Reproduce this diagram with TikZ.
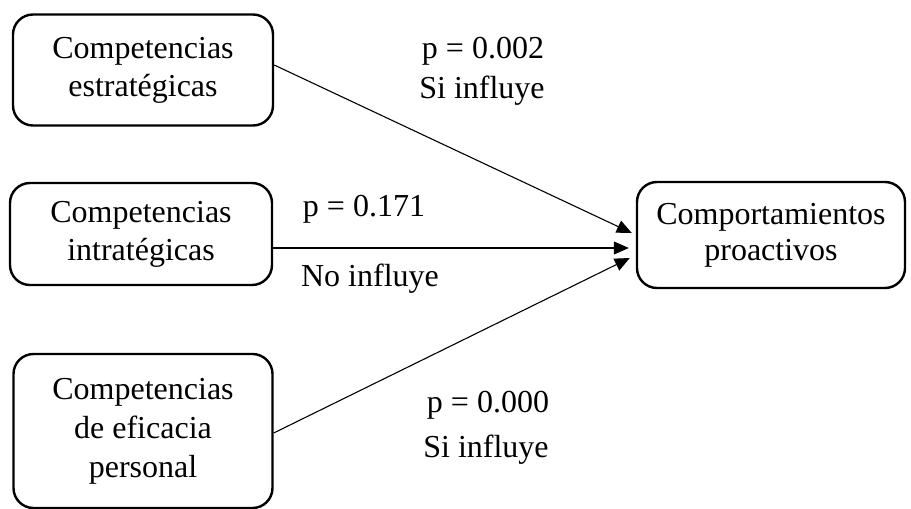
\documentclass[tikz,border=0pt]{standalone}
\usepackage{fontspec}
\setmainfont{Liberation Serif}
\usetikzlibrary{arrows.meta}
\tikzset{
  factor/.style={draw, line width=2.4pt, rounded corners=20pt, align=center,
    inner sep=0pt, font=\fontsize{32}{38}\selectfont},
  arr/.style={line width=1.1pt, -{Triangle[length=15pt,width=13pt]}},
  lbl/.style={anchor=base, inner sep=0pt, font=\fontsize{32}{38}\selectfont}
}
\begin{document}
\begin{tikzpicture}[x=1pt,y=-1pt]
\useasboundingbox (0,0) rectangle (911,509);
% source factors
\node[factor, minimum width=260pt, minimum height=111pt] (est) at (143,70)
  {Competencias\\estratégicas};
\node[factor, minimum width=262pt, minimum height=102pt] (intra) at (141,234)
  {Competencias\\intratégicas};
\node[factor, minimum width=259pt, minimum height=154pt,
  font=\fontsize{32}{39}\selectfont] (efic) at (143,431)
  {Competencias\\de eficacia\\personal};
% outcome
\node[factor, minimum width=268pt, minimum height=106pt] (comp) at (771,235)
  {\raisebox{-2pt}{Comportamientos}\\proactivos};
% paths
\draw[arr] ([yshift=5pt]est.east) -- ([xshift=-4pt,yshift=2pt]comp.west);
\draw[arr] ([yshift=-14pt]intra.east) -- ([xshift=-7pt,yshift=-13pt]comp.west);
\draw[arr] ([yshift=-2pt]efic.east) -- ([xshift=-6pt,yshift=-23pt]comp.west);
% path labels
\node[lbl] (p1) at (483,58) {p = 0.002};
\node[lbl] (s1) at (482,98) {Si influye};
\node[lbl] (p2) at (364,216) {p = 0.171};
\node[lbl] (s2) at (370,286) {No influye};
\node[lbl] (p3) at (488,412) {p = 0.000};
\node[lbl] (s3) at (486,457) {Si influye};
\end{tikzpicture}
\end{document}
